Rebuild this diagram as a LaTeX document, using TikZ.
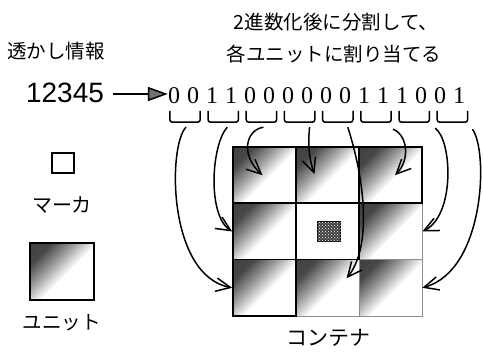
\documentclass[tikz,border=0pt]{standalone}
\usepackage{fontspec}
\setmainfont{Liberation Serif}
\newfontfamily\cjk{Noto Sans CJK JP}
\newfontfamily\helv{Liberation Sans}
\usetikzlibrary{arrows.meta,patterns}
\pgfdeclarehorizontalshading{unitshade}{100bp}{color(0bp)=(black!78); color(27bp)=(black!72); color(40bp)=(black!40); color(54bp)=(white); color(100bp)=(white)}
\tikzset{
  unitcell/.style={rectangle, minimum width=63pt, minimum height=56.3pt, inner sep=0pt, shade, shading=unitshade, shading angle=-45},
  blackedge/.style={draw=black, line width=1.7pt},
  grayedge/.style={draw=black!45, line width=0.7pt},
  bitlabel/.style={font=\fontsize{24}{24}\selectfont, inner sep=0pt},
  bracketbox/.style={rectangle, minimum width=30pt, minimum height=11pt, inner sep=0pt},
  bracketline/.style={line width=1.5pt, rounded corners=2.5pt},
  conn/.style={line width=1.5pt, -{Straight Barb[angle=50:16pt, line width=1.5pt]}},
  jp/.style={font=\cjk\fontsize{19.5}{20}\selectfont, inner sep=0pt},
}
\begin{document}
\begin{tikzpicture}[x=1pt,y=-1pt]
\useasboundingbox (0,0) rectangle (483,353);
% titles
\node[jp] (t1) at (336,22) {2進数化後に分割して、};
\node[jp] (t2) at (334,54) {各ユニットに割り当てる};
\node[jp] (wm) at (56,51) {透かし情報};
\node[font=\helv\fontsize{28}{28}\selectfont, inner sep=0pt] (num) at (65,93) {12345};
% bits
\foreach \b [count=\i from 0] in {0,0,1,1,0,0,0,0,0,0,1,1,1,0,0,1}
  \node[bitlabel] (bit\i) at (174+19*\i,96) {\b};
\draw[line width=1.5pt, -{Triangle[length=20pt,width=14pt,fill=black!55]}] ([xshift=9pt,yshift=-1pt]num.east) -- ([yshift=-1pt]num.east -| bit0.west);
% brackets
\foreach \k in {1,...,8}{
  \node[bracketbox] (b\k) at ({185+38.2*(\k-1)},116.5) {};
  \draw[bracketline] (b\k.north west) -- (b\k.south west) -- (b\k.south east) -- (b\k.north east);
}
% cells
\node[unitcell, grayedge] (c23) at (390.5,231.5) {};
\node[unitcell, grayedge] (c32) at (327.5,287.8) {};
\node[unitcell, grayedge] (c33) at (390.5,287.8) {};
\node[rectangle, minimum width=63pt, minimum height=56.3pt, inner sep=0pt, fill=white, blackedge] (c22) at (327.5,231.5) {};
\node[unitcell, blackedge] (c11) at (264.5,175.2) {};
\node[unitcell, blackedge] (c12) at (327.5,175.2) {};
\node[unitcell, blackedge] (c13) at (390.5,175.2) {};
\node[unitcell, blackedge] (c21) at (264.5,231.5) {};
\node[unitcell, blackedge] (c31) at (264.5,287.8) {};
% center marker
\node[rectangle, minimum width=23pt, minimum height=20pt, inner sep=0pt, fill=black!75, draw=black, line width=1pt] (mk) at (328.5,232) {};
\fill[pattern=crosshatch dots, pattern color=white] (mk.north west) rectangle (mk.south east);
% arrows
\draw[conn] ([xshift=1pt,yshift=-5pt]b1.south) .. controls +(-18,18) and +(-65,-12.5) .. (c31.west);
\draw[conn] ([xshift=4pt,yshift=-5pt]b2.south) .. controls +(-16,18) and +(-25,-16) .. (c21.west);
\draw[conn] ([xshift=2pt,yshift=-5pt]b3.south) .. controls +(-18,3) and +(-22,-20) .. ([xshift=-2pt]c11.center);
\draw[conn] ([xshift=10pt,yshift=-5pt]b4.south) .. controls +(-2,18) and +(-5,-14) .. ([xshift=-13pt,yshift=1pt]c12.center);
\draw[conn] ([xshift=10pt,yshift=-5pt]b5.south) .. controls +(20,63) and +(23,-28) .. ([xshift=19pt,yshift=9.5pt]c32.center);
\draw[conn] ([xshift=17pt,yshift=-7pt]b6.south) .. controls +(15,6) and +(15,-15) .. ([xshift=4.5pt]c13.center);
\draw[conn] ([xshift=21pt,yshift=-6pt]b7.south) .. controls +(17,12) and +(33,-16) .. (c23.east);
\draw[conn] ([xshift=20pt,yshift=-7pt]b8.south) .. controls +(16,21) and +(63,-17.5) .. (c33.east);
% legend
\node[rectangle, minimum width=22pt, minimum height=20pt, inner sep=0pt, draw=black, line width=1.4pt] (lm) at (63,163) {};
\node[jp, font=\cjk\fontsize{20}{20}\selectfont] (lmt) at (62,205) {マーカ};
\node[unitcell, minimum width=64pt, minimum height=57pt, blackedge] (lu) at (62,271.5) {};
\node[jp] (lut) at (62,323) {ユニット};
\node[jp, font=\cjk\fontsize{21}{21}\selectfont] (ct) at (328,338) {コンテナ};
\end{tikzpicture}
\end{document}
